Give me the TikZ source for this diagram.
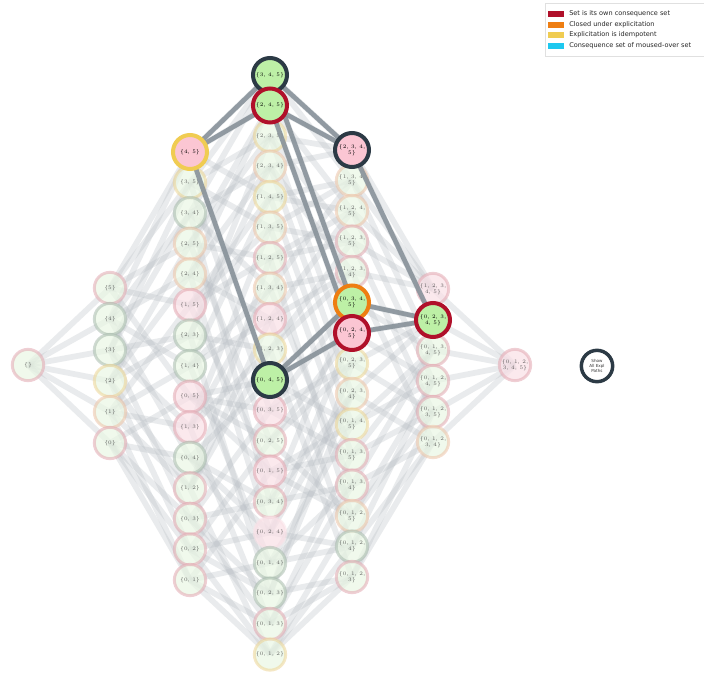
\documentclass[tikz,border=0pt]{standalone}
\usepackage{fontspec}
\newfontfamily\legfont{DejaVu Sans}
\pgfdeclarelayer{paper}\pgfdeclarelayer{edges}\pgfdeclarelayer{fnodes}\pgfdeclarelayer{hedges}
\pgfsetlayers{paper,edges,fnodes,hedges,main}
\definecolor{fgreen}{HTML}{EAF7E4}
\definecolor{fpink}{HTML}{FAE1E7}
\definecolor{hgreen}{HTML}{BDF0A6}
\definecolor{hpink}{HTML}{FBC6D3}
\definecolor{bpk}{HTML}{E3A8B2}
\definecolor{bgg}{HTML}{A9BCAE}
\definecolor{byl}{HTML}{EDD596}
\definecolor{bpe}{HTML}{EDC3A8}
\definecolor{dark}{HTML}{2C3A45}
\definecolor{dkred}{HTML}{B0102A}
\definecolor{orng}{HTML}{EE7E12}
\definecolor{gold}{HTML}{F0CC52}
\definecolor{cyn}{HTML}{1EC8EF}
\definecolor{edgegray}{HTML}{B8BEC4}
\definecolor{hgray}{HTML}{88929A}
\tikzset{
  nd/.style={circle, inner sep=0pt, minimum size=23.5pt, line width=2.2pt,
    font=\fontsize{4}{4.4}\selectfont, align=center, text=black!80},
  fg/.style={nd, draw=#1, fill=fgreen, draw opacity=0.55, fill opacity=0.68, text opacity=0.75},
  fp/.style={nd, draw=#1, fill=fpink, draw opacity=0.55, fill opacity=0.72, text opacity=0.75},
  hn/.style 2 args={nd, minimum size=25.5pt, line width=3pt, draw=#1, fill=#2, text=black},
  bgedge/.style={line width=4.3pt, draw=edgegray, draw opacity=0.3},
  hedge/.style={line width=3.5pt, draw=hgray, draw opacity=0.9},
  legtext/.style={anchor=west, inner sep=0pt, font=\legfont\fontsize{4.9}{5.5}\selectfont, text=black!85},
}
\begin{document}
\begin{tikzpicture}[x=0.75pt,y=-0.75pt]
\useasboundingbox (0,0) rectangle (704,672);
\begin{pgfonlayer}{paper}
\fill[white] (0,0) rectangle (704,672);
\end{pgfonlayer}

\begin{pgfonlayer}{fnodes}
% empty set
\node[fg=bpk] (s0) at (28,365) {\{\}};
% singletons
\node[fg=bpk] (s32) at (110,288) {\{5\}};
\node[fg=bgg] (s16) at (110,319) {\{4\}};
\node[fg=bgg] (s8)  at (110,350) {\{3\}};
\node[fg=byl] (s4)  at (110,381) {\{2\}};
\node[fg=bpe] (s2)  at (110,412) {\{1\}};
\node[fg=bpk] (s1)  at (110,443) {\{0\}};
% pairs
\node[fg=byl] (s40) at (190,182.6) {\{3, 5\}};
\node[fg=bgg] (s24) at (190,213.1) {\{3, 4\}};
\node[fg=bpe] (s36) at (190,243.7) {\{2, 5\}};
\node[fg=bpe] (s20) at (190,274.3) {\{2, 4\}};
\node[fp=bpk] (s34) at (190,304.9) {\{1, 5\}};
\node[fg=bgg] (s12) at (190,335.4) {\{2, 3\}};
\node[fg=bgg] (s18) at (190,366) {\{1, 4\}};
\node[fp=bpk] (s33) at (190,396.6) {\{0, 5\}};
\node[fp=bpk] (s10) at (190,427.1) {\{1, 3\}};
\node[fg=bgg] (s17) at (190,457.7) {\{0, 4\}};
\node[fg=bpk] (s6)  at (190,488.3) {\{1, 2\}};
\node[fg=bpk] (s9)  at (190,518.8) {\{0, 3\}};
\node[fg=bpk] (s5)  at (190,549.4) {\{0, 2\}};
\node[fg=bpk] (s3)  at (190,580) {\{0, 1\}};
% triples
\node[fg=byl] (s44) at (270,136) {\{2, 3, 5\}};
\node[fg=bpe] (s28) at (270,166.5) {\{2, 3, 4\}};
\node[fg=byl] (s50) at (270,197) {\{1, 4, 5\}};
\node[fg=bpe] (s42) at (270,227.5) {\{1, 3, 5\}};
\node[fg=bpk] (s38) at (270,258) {\{1, 2, 5\}};
\node[fg=bpe] (s26) at (270,288.5) {\{1, 3, 4\}};
\node[fp=bpk] (s22) at (270,319) {\{1, 2, 4\}};
\node[fg=byl] (s14) at (270,349.5) {\{1, 2, 3\}};
\node[fp=bpk] (s41) at (270,410.5) {\{0, 3, 5\}};
\node[fg=bpk] (s37) at (270,441) {\{0, 2, 5\}};
\node[fp=bpk] (s35) at (270,471.5) {\{0, 1, 5\}};
\node[fg=bpk] (s25) at (270,502) {\{0, 3, 4\}};
\node[fp=fpink] (s21) at (270,532.5) {\{0, 2, 4\}};
\node[fg=bgg] (s19) at (270,563) {\{0, 1, 4\}};
\node[fg=bgg] (s13) at (270,593.5) {\{0, 2, 3\}};
\node[fg=bpk] (s11) at (270,624) {\{0, 1, 3\}};
\node[fg=byl] (s7)  at (270,654.5) {\{0, 1, 2\}};
% quadruples
\node[fg=bpe] (s58) at (352,180.5) {\{1, 3, 4,\\5\}};
\node[fg=bpe] (s54) at (352,211) {\{1, 2, 4,\\5\}};
\node[fg=bpk] (s46) at (352,241.5) {\{1, 2, 3,\\5\}};
\node[fg=bpk] (s30) at (352,272) {\{1, 2, 3,\\4\}};
\node[fg=byl] (s45) at (352,363.5) {\{0, 2, 3,\\5\}};
\node[fg=bpe] (s29) at (352,394) {\{0, 2, 3,\\4\}};
\node[fg=byl] (s51) at (352,424.5) {\{0, 1, 4,\\5\}};
\node[fg=bpk] (s43) at (352,455) {\{0, 1, 3,\\5\}};
\node[fg=bpk] (s27) at (352,485.5) {\{0, 1, 3,\\4\}};
\node[fg=bpe] (s39) at (352,516) {\{0, 1, 2,\\5\}};
\node[fg=bgg] (s23) at (352,546.5) {\{0, 1, 2,\\4\}};
\node[fg=bpk] (s15) at (352,577) {\{0, 1, 2,\\3\}};
% quintuples
\node[fp=bpk] (s62) at (433,289) {\{1, 2, 3,\\4, 5\}};
\node[fg=bpk] (s59) at (433,350) {\{0, 1, 3,\\4, 5\}};
\node[fg=bpk] (s55) at (433,381) {\{0, 1, 2,\\4, 5\}};
\node[fg=bpk] (s47) at (433,412) {\{0, 1, 2,\\3, 5\}};
\node[fg=bpe] (s31) at (433,442) {\{0, 1, 2,\\3, 4\}};
% full set
\node[fp=bpk] (s63) at (515,365) {\{0, 1, 2,\\3, 4, 5\}};
\end{pgfonlayer}

% highlighted nodes
\node[hn={gold}{hpink}]   (s48) at (190,152) {\{4, 5\}};
\node[hn={dark}{hgreen}]  (s56) at (270,75) {\{3, 4, 5\}};
\node[hn={dkred}{hgreen}] (s52) at (270,105.5) {\{2, 4, 5\}};
\node[hn={dark}{hgreen}]  (s49) at (270,380) {\{0, 4, 5\}};
\node[hn={dark}{hpink}]   (s60) at (352,150) {\{2, 3, 4,\\5\}};
\node[hn={orng}{hgreen}]  (s57) at (352,302.5) {\{0, 3, 4,\\5\}};
\node[hn={dkred}{hpink}]  (s53) at (352,333) {\{0, 2, 4,\\5\}};
\node[hn={dkred}{hgreen}] (s61) at (433,320) {\{0, 2, 3,\\4, 5\}};

% show button
\node[nd, draw=dark, line width=2.6pt, fill=white, text=black!80,
  font=\legfont\fontsize{3.1}{3.7}\selectfont] (show) at (597,366) {Show\\All Expl\\Paths};

% Hasse edges
\begin{pgfonlayer}{edges}
\foreach \m in {0,...,62}{
  \foreach \b in {0,...,5}{
    \pgfmathtruncatemacro\bit{mod(floor(\m/(2^\b)),2)}
    \ifnum\bit=0
      \pgfmathtruncatemacro\nn{\m+2^\b}
      \draw[bgedge] (s\m.center) -- (s\nn.center);
    \fi
  }
}
\end{pgfonlayer}

% highlighted edges
\begin{pgfonlayer}{hedges}
\foreach \a/\c in {48/56,48/52,48/49,56/60,52/60,56/57,52/53,49/57,49/53,60/61,57/61,53/61}{
  \draw[hedge] (s\a.center) -- (s\c.center);
}
\end{pgfonlayer}

% legend
\draw[draw=black!12, fill=white] (545,3) rectangle (704,56);
\fill[dkred] (548,10.5) rectangle (564,16.5);
\fill[orng]  (548,21.5) rectangle (564,27.5);
\fill[gold]  (548,32) rectangle (564,38);
\fill[cyn]   (548,43) rectangle (564,49);
\node[legtext] (l1) at (569,13.5) {Set is its own consequence set};
\node[legtext] (l2) at (569,24.5) {Closed under explicitation};
\node[legtext] (l3) at (569,35) {Explicitation is idempotent};
\node[legtext] (l4) at (569,46) {Consequence set of moused-over set};
\end{tikzpicture}
\end{document}
